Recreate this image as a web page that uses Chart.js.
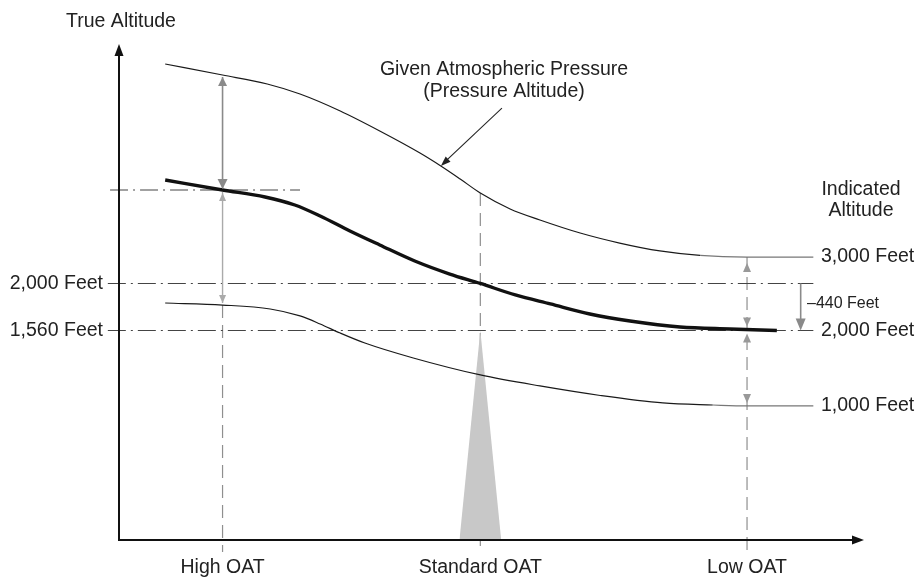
<!DOCTYPE html>
<html>
<head>
<meta charset="utf-8">
<script src="https://cdn.jsdelivr.net/npm/chart.js@4.4.1/dist/chart.umd.min.js"></script>
<style>
  html, body { margin: 0; padding: 0; background: #fff; }
  canvas { display: block; }
</style>
</head>
<body>
<canvas id="graficoAltitude" width="917" height="578"></canvas>
<script>
// ================================
// Data (x = OAT position, y = true altitude in feet)
// ================================
const oatLabels = ["High OAT", "Standard OAT", "Low OAT"]
const oatPositions = [13.9, 48.5, 84.3]

// indicated 3,000 ft (given atmospheric pressure)
const curve3000X = [6.2, 13.9, 19.9, 24.3, 29.7, 35.0, 40.4, 43.2, 45.8, 48.5, 52.5, 56.5, 61.9, 67.2, 72.6, 78.0, 84.3, 93.2]
const curve3000 = [4053, 3950, 3866, 3772, 3613, 3426, 3220, 3099, 2977, 2846, 2697, 2594, 2472, 2378, 2304, 2262, 2247, 2247]

// indicated 2,000 ft
const curve2000X = [6.2, 13.9, 19.6, 23.6, 27.0, 31.0, 35.0, 39.7, 44.4, 48.5, 53.2, 57.9, 63.2, 68.6, 75.3, 82.0, 88.3]
const curve2000 = [2968, 2874, 2809, 2734, 2631, 2491, 2360, 2210, 2088, 2000, 1892, 1808, 1714, 1649, 1593, 1574, 1560]

// indicated 1,000 ft
const curve1000X = [6.2, 13.9, 20.3, 24.3, 27.0, 29.7, 33.0, 39.5, 48.5, 56.5, 64.6, 73.0, 79.7, 84.3, 93.2]
const curve1000 = [1817, 1798, 1761, 1696, 1621, 1536, 1443, 1303, 1144, 1041, 952, 882, 863, 854, 854]

const yTickValues = [2000, 1560]
const yTickLabels = ["2,000 Feet", "1,560 Feet"]
const indicatedLabels = ["3,000 Feet", "2,000 Feet", "1,000 Feet"]
const correctionLabel = "\u2013440 Feet"

const triangleX = [45.7, 48.5, 51.3]
const triangleY = [-400, 1560, -400]

const calloutFrom = [51.4, 3640]
const calloutTo = [43.2, 3099]

const yMin = -400
const yMax = 4240
const belowAxis = -512

const FONTE = '"Liberation Sans", Arial, sans-serif'

function pontos(xs, ys) {
  return xs.map((v, i) => ({ x: v, y: ys[i] }))
}

function valorEm(xs, ys, alvo) {
  const i = xs.indexOf(alvo)
  return i >= 0 ? ys[i] : ys[ys.length - 1]
}

function seta(ctx, x, y, dx, dy, comp, meia, cor) {
  const l = Math.hypot(dx, dy)
  const ux = dx / l
  const uy = dy / l
  const bx = x - ux * comp
  const by = y - uy * comp
  ctx.beginPath()
  ctx.moveTo(x, y)
  ctx.lineTo(bx - uy * meia, by + ux * meia)
  ctx.lineTo(bx + uy * meia, by - ux * meia)
  ctx.closePath()
  ctx.fillStyle = cor
  ctx.fill()
}

function linha(ctx, x1, y1, x2, y2, cor, w) {
  ctx.beginPath()
  ctx.moveTo(x1, y1)
  ctx.lineTo(x2, y2)
  ctx.strokeStyle = cor
  ctx.lineWidth = w
  ctx.setLineDash([])
  ctx.stroke()
}

// ================================
// Plugin: axes, arrows and text
// ================================
const anotacoes = {
  id: "anotacoes",
  afterDatasetsDraw(chart) {
    const { ctx, chartArea: a, scales } = chart
    const x = scales.x
    const y = scales.y
    ctx.save()

    // axes with arrow heads
    linha(ctx, a.left, a.bottom + 1, a.left, a.top + 10, "#111", 2)
    linha(ctx, a.left - 1, a.bottom, a.right - 10, a.bottom, "#111", 2)
    seta(ctx, a.left, a.top, 0, -1, 12, 4.5, "#111")
    seta(ctx, a.right, a.bottom, 1, 0, 12, 4.5, "#111")

    // High OAT arrows
    const xh = x.getPixelForValue(oatPositions[0])
    const yh1 = y.getPixelForValue(valorEm(curve3000X, curve3000, oatPositions[0]))
    const yh2 = y.getPixelForValue(valorEm(curve2000X, curve2000, oatPositions[0]))
    const yh3 = y.getPixelForValue(valorEm(curve1000X, curve1000, oatPositions[0]))
    linha(ctx, xh, yh1 + 2, xh, yh2 - 2, "#8a8a8a", 1.6)
    seta(ctx, xh, yh1 + 2, 0, -1, 9, 4.5, "#8a8a8a")
    seta(ctx, xh, yh2 - 1, 0, 1, 10, 5, "#8a8a8a")
    linha(ctx, xh, yh2 + 2, xh, yh3 - 2, "#aaaaaa", 1.4)
    seta(ctx, xh, yh2 + 3, 0, -1, 8, 3.5, "#aaaaaa")
    seta(ctx, xh, yh3 - 2, 0, 1, 8, 3.5, "#aaaaaa")

    // Low OAT arrow heads (dashed shafts are datasets)
    const xl = x.getPixelForValue(oatPositions[2])
    const yl1 = y.getPixelForValue(valorEm(curve3000X, curve3000, oatPositions[2]))
    const yl2 = y.getPixelForValue(yTickValues[1])
    const yl3 = y.getPixelForValue(valorEm(curve1000X, curve1000, oatPositions[2]))
    seta(ctx, xl, yl1 + 6, 0, -1, 9, 4, "#999")
    seta(ctx, xl, yl2 - 4, 0, 1, 9, 4, "#999")
    seta(ctx, xl, yl2 + 3, 0, -1, 9, 4, "#999")
    seta(ctx, xl, yl3 - 3, 0, 1, 9, 4, "#999")

    // -440 feet correction arrow
    const xc = x.getPixelForValue(91.5)
    const yc1 = y.getPixelForValue(yTickValues[0])
    const yc2 = y.getPixelForValue(yTickValues[1])
    linha(ctx, xc, yc1, xc, yc2 - 8, "#8a8a8a", 1.6)
    seta(ctx, xc, yc2, 0, 1, 12, 5, "#8a8a8a")

    // callout arrow
    const cx1 = x.getPixelForValue(calloutFrom[0])
    const cy1 = y.getPixelForValue(calloutFrom[1])
    const cx2 = x.getPixelForValue(calloutTo[0])
    const cy2 = y.getPixelForValue(calloutTo[1])
    linha(ctx, cx1, cy1, cx2 + 4, cy2 - 4, "#222", 1.1)
    seta(ctx, cx2, cy2, cx2 - cx1, cy2 - cy1, 10, 3.5, "#222")

    // text
    ctx.fillStyle = "#222"
    ctx.textBaseline = "middle"
    ctx.font = `19.5px ${FONTE}`

    ctx.textAlign = "center"
    ctx.fillText("True Altitude", a.left + 2, 22)
    ctx.fillText("Given Atmospheric Pressure", 504, 70)
    ctx.fillText("(Pressure Altitude)", 504, 92)
    ctx.fillText("Indicated", 861, 190)
    ctx.fillText("Altitude", 861, 211)
    oatLabels.forEach((t, i) => {
      ctx.fillText(t, x.getPixelForValue(oatPositions[i]), 568)
    })

    ctx.textAlign = "right"
    yTickLabels.forEach((t, i) => {
      ctx.fillText(t, 103, y.getPixelForValue(yTickValues[i]))
    })

    ctx.textAlign = "left"
    const fins = [curve3000[curve3000.length - 1], curve2000[curve2000.length - 1], curve1000[curve1000.length - 1]]
    indicatedLabels.forEach((t, i) => {
      ctx.fillText(t, 821, y.getPixelForValue(fins[i]))
    })

    ctx.font = `16px ${FONTE}`
    ctx.fillText(correctionLabel, 807, (yc1 + yc2) / 2 - 3)

    ctx.restore()
  },
}

// ================================
// Chart
// ================================
const DASH_DOT = [18, 5, 2, 5]
const DASH = [13, 7]
const cinzaFinal = (c) => (c.p0.parsed.x >= 77 ? "#777" : "#1a1a1a")

function retaHorizontal(valor, x0, x1) {
  return {
    data: [{ x: x0, y: valor }, { x: x1, y: valor }],
    borderColor: "#444",
    borderWidth: 1.1,
    borderDash: DASH_DOT,
    tension: 0,
    clip: false,
    order: 5,
  }
}

function retaVertical(pos, topo) {
  return {
    data: [{ x: pos, y: topo }, { x: pos, y: belowAxis }],
    borderColor: "#8f8f8f",
    borderWidth: 1.2,
    borderDash: DASH,
    tension: 0,
    clip: false,
    order: 6,
  }
}

new Chart(document.getElementById("graficoAltitude"), {
  type: "line",
  data: {
    datasets: [
      {
        data: pontos(curve2000X, curve2000),
        borderColor: "#111",
        borderWidth: 3.4,
        cubicInterpolationMode: "monotone",
        clip: false,
        order: 1,
      },
      {
        data: pontos(curve3000X, curve3000),
        borderColor: "#1a1a1a",
        borderWidth: 1.2,
        cubicInterpolationMode: "monotone",
        segment: { borderColor: cinzaFinal },
        clip: false,
        order: 2,
      },
      {
        data: pontos(curve1000X, curve1000),
        borderColor: "#1a1a1a",
        borderWidth: 1.2,
        cubicInterpolationMode: "monotone",
        segment: { borderColor: cinzaFinal },
        clip: false,
        order: 2,
      },
      {
        data: pontos(triangleX, triangleY),
        borderWidth: 0,
        backgroundColor: "#c8c8c8",
        fill: "start",
        tension: 0,
        order: 4,
      },
      retaHorizontal(valorEm(curve2000X, curve2000, oatPositions[0]), -1.2, 24.3),
      retaHorizontal(yTickValues[0], -1.5, 93.2),
      retaHorizontal(yTickValues[1], -1.5, 93.2),
      retaVertical(oatPositions[0], valorEm(curve1000X, curve1000, oatPositions[0])),
      retaVertical(oatPositions[1], valorEm(curve3000X, curve3000, oatPositions[1])),
      retaVertical(oatPositions[2], valorEm(curve3000X, curve3000, oatPositions[2])),
    ],
  },
  options: {
    responsive: false,
    animation: false,
    events: [],
    layout: { padding: { left: 119, right: 53, top: 44, bottom: 38 } },
    elements: { point: { radius: 0 } },
    plugins: { legend: { display: false }, tooltip: { enabled: false } },
    scales: {
      x: { type: "linear", min: 0, max: 100, display: false },
      y: { type: "linear", min: yMin, max: yMax, display: false },
    },
  },
  plugins: [anotacoes],
})
</script>
</body>
</html>
